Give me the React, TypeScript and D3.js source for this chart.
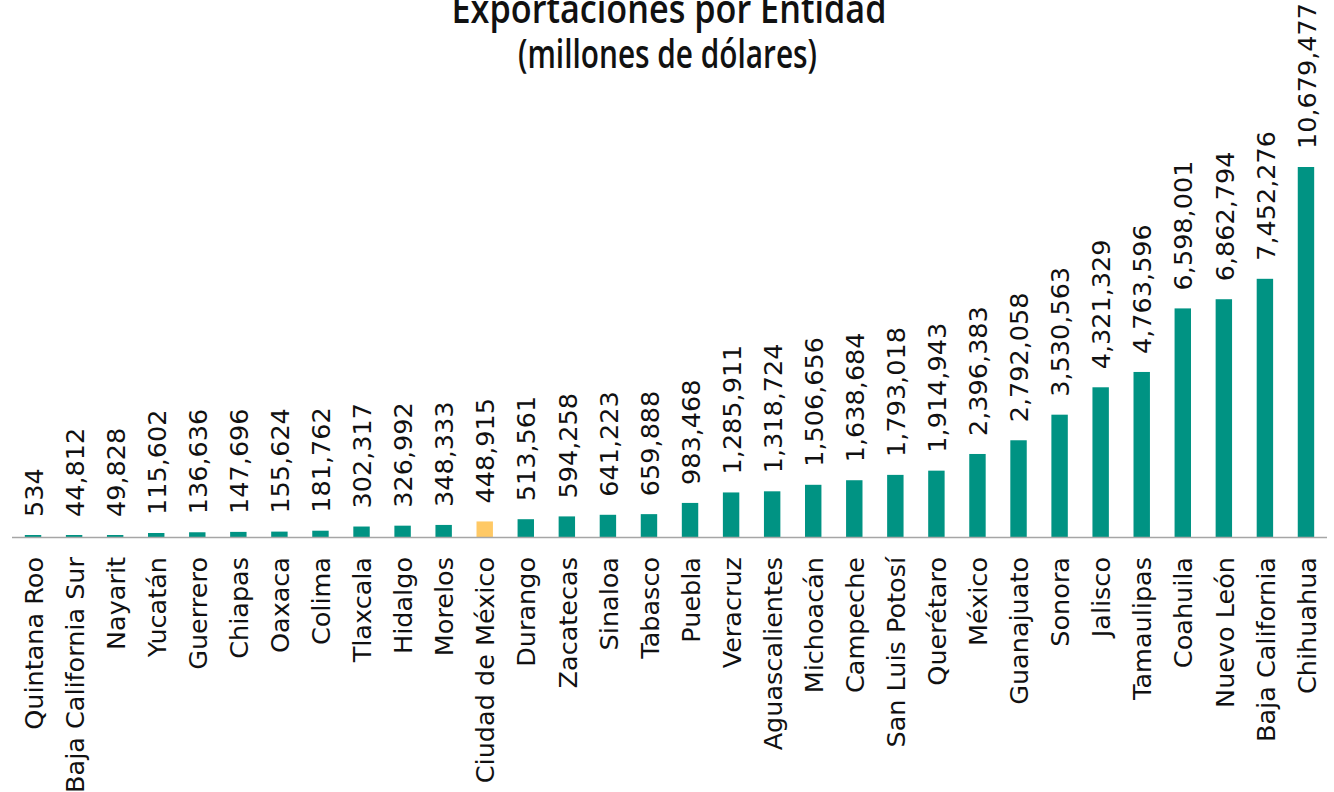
import React from "react";
import * as d3 from "d3";

const categories = [
  "Quintana Roo", "Baja California Sur", "Nayarit", "Yucatán", "Guerrero", "Chiapas",
  "Oaxaca", "Colima", "Tlaxcala", "Hidalgo", "Morelos", "Ciudad de México", "Durango",
  "Zacatecas", "Sinaloa", "Tabasco", "Puebla", "Veracruz", "Aguascalientes", "Michoacán",
  "Campeche", "San Luis Potosí", "Querétaro", "México", "Guanajuato", "Sonora", "Jalisco",
  "Tamaulipas", "Coahuila", "Nuevo León", "Baja California", "Chihuahua",
];

const values = [
  534, 44812, 49828, 115602, 136636, 147696, 155624, 181762, 302317, 326992, 348333,
  448915, 513561, 594258, 641223, 659888, 983468, 1285911, 1318724, 1506656, 1638684,
  1793018, 1914943, 2396383, 2792058, 3530563, 4321329, 4763596, 6598001, 6862794,
  7452276, 10679477,
];

const highlighted = ["Ciudad de México"];

const titleText = "Exportaciones por Entidad";
const subtitleText = "(millones de dólares)";

const W = 1334;
const H = 792;
const baseY = 537;
const topY = 167;

export default function App() {
  const x = d3
    .scaleBand<string>()
    .domain(categories)
    .range([12.5, 1326.5])
    .paddingInner(0.6)
    .paddingOuter(0.3);
  const y = d3
    .scaleLinear()
    .domain([0, d3.max(values) as number])
    .range([baseY, topY]);
  const fmt = d3.format(",");
  const teal = "#009383";
  const yellow = "#FFC965";
  const labelFont = "'DejaVu Sans', Verdana, sans-serif";
  const fs = 25.5;

  return (
    <svg
      width={W}
      height={H}
      style={{ position: "absolute", left: 0, top: 0, display: "block", background: "#fff" }}
    >
      <text
        x={669}
        y={23}
        textAnchor="middle"
        fontFamily="'Open Sans', Lato, sans-serif"
        fontWeight={600}
        fontSize={40}
        textLength={435}
        lengthAdjust="spacingAndGlyphs"
        fill="#111"
      >
        {titleText}
      </text>
      <text
        x={667.5}
        y={68}
        textAnchor="middle"
        fontFamily="'Open Sans', Lato, sans-serif"
        fontWeight={600}
        fontSize={39}
        textLength={299}
        lengthAdjust="spacingAndGlyphs"
        fill="#111"
      >
        {subtitleText}
      </text>

      {categories.map((c, i) => {
        const v = values[i];
        const bx = x(c) as number;
        const bw = x.bandwidth();
        const yt = y(v);
        const h = Math.max(baseY - yt, 2);
        return (
          <rect
            key={"b" + c}
            x={bx}
            y={baseY - h}
            width={bw}
            height={h}
            fill={highlighted.includes(c) ? yellow : teal}
          />
        );
      })}

      <line x1={12} x2={1327} y1={baseY + 0.5} y2={baseY + 0.5} stroke="#A6A6A6" strokeWidth={1.5} />

      {categories.map((c, i) => {
        const cx = (x(c) as number) + x.bandwidth() / 2;
        const yt = Math.min(y(values[i]), baseY - 2);
        return (
          <text
            key={"v" + c}
            transform={`translate(${cx},${yt - 18}) rotate(-90)`}
            dy="0.38em"
            textAnchor="start"
            fontFamily={labelFont}
            fontSize={fs}
            fill="#111"
          >
            {fmt(values[i])}
          </text>
        );
      })}

      {categories.map((c) => {
        const cx = (x(c) as number) + x.bandwidth() / 2;
        return (
          <text
            key={"c" + c}
            transform={`translate(${cx},${baseY + 20}) rotate(-90)`}
            dy="0.38em"
            textAnchor="end"
            fontFamily={labelFont}
            fontSize={fs}
            fill="#111"
          >
            {c}
          </text>
        );
      })}
    </svg>
  );
}
